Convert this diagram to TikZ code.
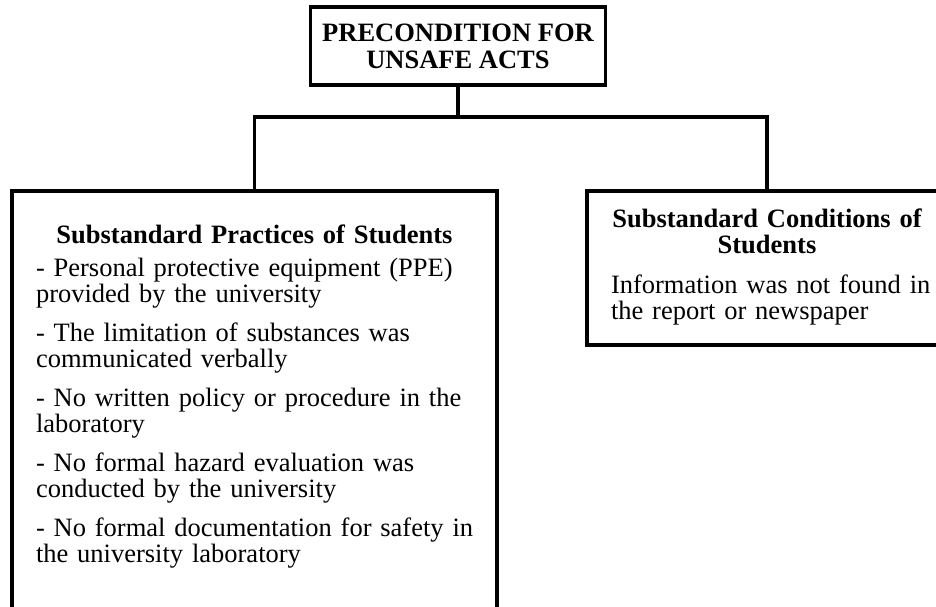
\documentclass[tikz,border=0pt]{standalone}
\usepackage{fontspec}
\setmainfont{Liberation Serif}
\usetikzlibrary{positioning}

\begin{document}
\begin{tikzpicture}[x=1pt, y=1pt,
    boxStyle/.style={draw=borderColour, line width=3.5pt, fill=white, inner sep=0pt},
    textStyle/.style={anchor=north, inner sep=0pt, align=left,
        font=\fontsize{26.5}{26}\selectfont},
    linkStyle/.style={draw=borderColour, line width=3.5pt}]
    % Define colours
    \definecolor{borderColour}{HTML}{000000}

    % Fix the page size
    \useasboundingbox (0,0) rectangle (936,-606);

    % Draw the top box
    \node[boxStyle, minimum width=295, minimum height=78, align=center,
        font=\bfseries\fontsize{26.5}{27}\selectfont]
        (precondition) at (458,-46) {PRECONDITION FOR\\UNSAFE ACTS};

    % Define the branching point
    \coordinate (branch) at (458,-117);

    % Draw the two lower boxes
    \node[boxStyle, anchor=north, minimum width=485, minimum height=418] (practices) at (254.5,-189) {};
    \node[boxStyle, anchor=north, minimum width=360, minimum height=154] (conditions) at (767,-189) {};

    % Write the text of the left box
    \node[textStyle, text width=437] (practicesText) at ([yshift=-36]practices.north) {%
        \setlength{\parindent}{0pt}\setlength{\parskip}{13pt}%
        {\centering\bfseries Substandard Practices of Students\par}
        \vspace{-6pt}
        \raggedright\rightskip=-30pt plus 1fil
        - Personal protective equipment (PPE)\\provided by the university\par
        - The limitation of substances was\\communicated verbally\par
        - No written policy or procedure in the\\laboratory\par
        - No formal hazard evaluation was\\conducted by the university\par
        - No formal documentation for safety in\\the university laboratory\par};

    % Write the text of the right box
    \node[textStyle, text width=312] (conditionsText) at ([yshift=-20]conditions.north) {%
        \setlength{\parindent}{0pt}\setlength{\parskip}{11pt}%
        {\centering\bfseries Substandard Conditions of\\Students\par}
        \vspace{3pt}
        \raggedright\rightskip=-30pt plus 1fil
        Information was not found in\\the report or newspaper\par};

    % Draw the connectors
    \draw[linkStyle] (precondition.south) -- (branch);
    \draw[linkStyle] (branch) -| (practices.north);
    \draw[linkStyle] (branch) -| (conditions.north);
\end{tikzpicture}
\end{document}
